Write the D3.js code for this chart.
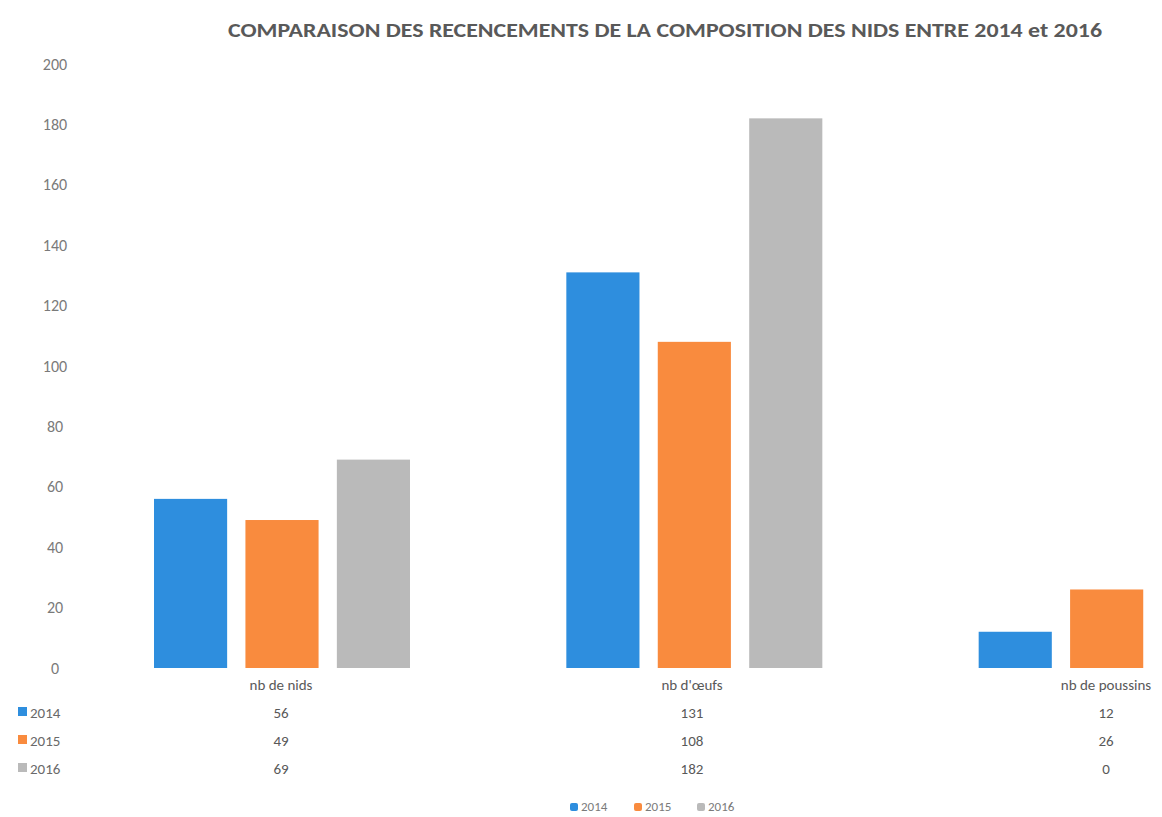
<!DOCTYPE html>
<html>
<head>
<meta charset="utf-8">
<script src="https://cdn.jsdelivr.net/npm/d3@7"></script>
<style>
html,body{margin:0;padding:0;background:#fff;}
svg{display:block;font-family:"Carlito","Lato","Liberation Sans",sans-serif;}
</style>
</head>
<body>
<svg id="chart" width="1162" height="817"></svg>
<script>
const categories = ["nb de nids", "nb d'œufs", "nb de poussins"];
const years = ["2014", "2015", "2016"];
const values2014 = [56, 131, 12];
const values2015 = [49, 108, 26];
const values2016 = [69, 182, 0];
const yTicks = [0, 20, 40, 60, 80, 100, 120, 140, 160, 180, 200];
const colors = ["#2e8ede", "#f98b3e", "#bababa"];
const titleText = "COMPARAISON DES RECENCEMENTS DE LA COMPOSITION DES NIDS ENTRE 2014 et 2016";

const series = [values2014, values2015, values2016];
const svg = d3.select("#chart");

const y = d3.scaleLinear().domain([0, 200]).range([668, 64]);
const x = d3.scaleBand().domain(categories).range([75, 1312]).paddingInner(0).paddingOuter(0);
const xi = d3.scaleBand().domain(years).range([79, 335]).paddingInner(0.2).paddingOuter(0);

// title
svg.append("text")
  .attr("x", 228).attr("y", 37)
  .attr("textLength", 874).attr("lengthAdjust", "spacingAndGlyphs")
  .attr("font-size", 20).attr("font-weight", "bold")
  .attr("fill", "#595959")
  .text(titleText);

// y axis (labels only)
const yAxis = d3.axisLeft(y).tickValues(yTicks).tickSize(0).tickPadding(0);
const gy = svg.append("g").attr("transform", "translate(72,0)").call(yAxis);
gy.select(".domain").remove();
gy.selectAll("text")
  .attr("x", -17).attr("text-anchor", "middle")
  .attr("font-size", 16).attr("font-family", "Carlito, Lato, sans-serif")
  .attr("fill", "#7a7a7a");

// bars
categories.forEach((c, ci) => {
  const g = svg.append("g").attr("transform", `translate(${x(c)},0)`);
  years.forEach((yr, si) => {
    const v = series[si][ci];
    if (v <= 0) return;
    g.append("rect")
      .attr("x", xi(yr)).attr("width", xi.bandwidth())
      .attr("y", y(v)).attr("height", y(0) - y(v))
      .attr("fill", colors[si]);
  });
});

// table: category labels
const tableX = [281, 692, 1106];
categories.forEach((c, ci) => {
  svg.append("text").attr("x", tableX[ci]).attr("y", 690)
    .attr("text-anchor", "middle").attr("font-size", 15)
    .attr("fill", "#595959").text(c);
});
const rowY = [718, 746, 774];
years.forEach((yr, si) => {
  svg.append("rect").attr("x", 18).attr("y", rowY[si] - 11).attr("width", 9).attr("height", 9)
    .attr("fill", colors[si]);
  svg.append("text").attr("x", 30).attr("y", rowY[si])
    .attr("font-size", 15).attr("fill", "#6a6a6a").text(yr);
  categories.forEach((c, ci) => {
    svg.append("text").attr("x", tableX[ci]).attr("y", rowY[si])
      .attr("text-anchor", "middle").attr("font-size", 15)
      .attr("fill", "#595959").text(series[si][ci]);
  });
});

// bottom legend
const legX = [574, 638, 701];
years.forEach((yr, si) => {
  svg.append("rect").attr("x", legX[si] - 4).attr("y", 803).attr("width", 8).attr("height", 8)
    .attr("rx", 2).attr("fill", colors[si]);
  svg.append("text").attr("x", legX[si] + 7).attr("y", 811)
    .attr("font-size", 13).attr("fill", "#7a7a7a").text(yr);
});
</script>
</body>
</html>
